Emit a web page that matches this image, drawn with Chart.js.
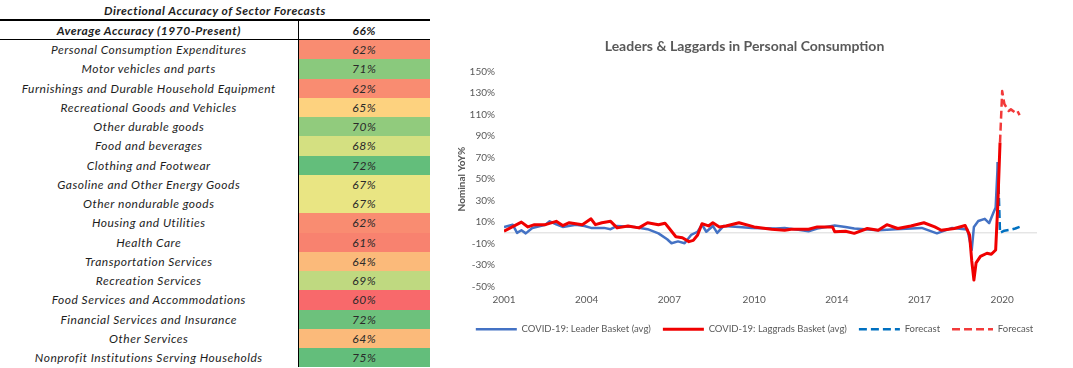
<!DOCTYPE html>
<html>
<head>
<meta charset="utf-8">
<script src="https://cdn.jsdelivr.net/npm/chart.js@4"></script>
<style>
    html, body { margin: 0; padding: 0; background: #fff; }
    body { width: 1073px; height: 368px; position: relative; overflow: hidden; font-family: Lato, "Open Sans", sans-serif; }
    #tableBox { position: absolute; left: 0; top: 0; width: 430px; }
    #tableBox table { border-collapse: collapse; width: 430px; table-layout: fixed; }
    #tableBox td { padding: 0; text-align: center; font-style: italic; font-size: 12px; letter-spacing: 0.5px; color: #1e1e1e; white-space: nowrap; }
    #tableBox .title td { height: 17px; padding-top: 2px; font-weight: bold; border-bottom: 2px solid #000; }
    #tableBox .head td { height: 18px; font-weight: bold; border-bottom: 1px solid #000; }
    #tableBox .row td { height: 19.25px; }
    #tableBox td.val { border-left: 1px solid #000; }
    #tableBox .row td.val { color: #2a2a2a; }
    #chartBox { position: absolute; left: 440px; top: 0; width: 633px; height: 368px; }
</style>
</head>
<body>
<div id="tableBox"></div>
<div id="chartBox"><canvas id="consumptionChart"></canvas></div>
<script>
    // Table: directional accuracy by sector
    var tableTitle = 'Directional Accuracy of Sector Forecasts';
    var headLabel = 'Average Accuracy (1970-Present)';
    var headValue = 66;
    var sectors = [
        'Personal Consumption Expenditures', 'Motor vehicles and parts',
        'Furnishings and Durable Household Equipment', 'Recreational Goods and Vehicles',
        'Other durable goods', 'Food and beverages', 'Clothing and Footwear',
        'Gasoline and Other Energy Goods', 'Other nondurable goods', 'Housing and Utilities',
        'Health Care', 'Transportation Services', 'Recreation Services',
        'Food Services and Accommodations', 'Financial Services and Insurance',
        'Other Services', 'Nonprofit Institutions Serving Households'
    ];
    var accuracy = [62, 71, 62, 65, 70, 68, 72, 67, 67, 62, 61, 64, 69, 60, 72, 64, 75];
    var cellColors = [
        '#F98C71', '#8AC97D', '#F98C71', '#FDD27F', '#91CB7D', '#D4E081', '#63BE7B',
        '#E9E583', '#E9E583', '#F98C71', '#F8826F', '#FBBA7A', '#BFD980', '#F8696B',
        '#6DC17C', '#FBBA7A', '#63BE7B'
    ];

    // Chart: x positions are month slots, 0 = first month on the axis
    var tickIdx = [0, 38, 76, 115, 153, 191, 229];
    var yearLabels = ['2001', '2004', '2007', '2010', '2014', '2017', '2020'];

    var leaderIdx = [0, 4, 6, 8, 10, 13, 19, 21, 24, 27, 33, 37, 40, 46, 49, 52, 60, 66, 71, 75,
        77, 80, 83, 86, 89, 91, 93, 96, 98, 101, 108, 114, 125, 129, 140, 144, 152, 157, 161, 172,
        180, 192, 199, 206, 213, 215, 216, 218, 221, 223, 225, 226, 227];
    var leaderVals = [5.5, 7.6, 0, 2.4, -0.5, 4.5, 7.6, 10.7, 8, 5.5, 7.6, 6.4, 4.6, 4.6, 3.4, 6.4, 5.5, 3.4, -0.5, -6,
        -9.7, -8, -9.7, -2, 1, 7.6, 1, 6.4, 0, 6.4, 5.5, 4.6, 4, 4.6, 1.5, 4, 6.8, 5.5, 4, 2.4,
        3.4, 4.6, -0.5, 4.6, 3, -16, 5.5, 11, 13, 9, 19, 23.7, 66];

    var laggardIdx = [0, 8, 11, 14, 19, 24, 27, 30, 36, 40, 42, 45, 49, 52, 57, 62, 66, 71, 74, 76,
        79, 82, 85, 87, 89, 91, 94, 96, 99, 102, 108, 115, 123, 129, 132, 140, 144, 151, 152, 157,
        161, 167, 172, 176, 181, 187, 193, 198, 201, 207, 212, 214, 215, 216, 217, 219, 222, 224, 226, 227,
        228];
    var laggardVals = [1.5, 10, 5.5, 7.6, 7.6, 10.7, 6.8, 9.4, 7.6, 13, 7.6, 9.4, 10.7, 4.6, 6.4, 4.6, 9.4, 7.6, 9, 4,
        -3.6, -4.6, -8.2, -7, -2, 8.5, 6.4, 9.4, 5.5, 6.4, 9.4, 5.5, 3.4, 2.4, 3.4, 3.4, 5.5, 5.5, 1, 1.5,
        -0.5, 4, 2.4, 7.6, 4, 6.4, 9.4, 5.5, 2.4, 4, 6.8, -2, -26, -44, -28, -22, -19, -20, -16, 27,
        84];

    var leaderFcIdx = [227, 228, 230, 233, 235, 237];
    var leaderFcVals = [66, 0, 2, 3, 4, 5.5];
    var laggardFcIdx = [228, 229, 230, 232, 233, 235, 236, 237];
    var laggardFcVals = [84, 132, 120, 113.5, 115, 112, 113.5, 109.6];

    var baselineIdx = [0, 245];
    var baselineVals = [0, 0];

    function buildTable() {
        var html = '<table><colgroup><col style="width:298px"><col style="width:132px"></colgroup>';
        html += '<tr class="title"><td colspan="2">' + tableTitle + '</td></tr>';
        html += '<tr class="head"><td>' + headLabel + '</td><td class="val">' + headValue + '%</td></tr>';
        sectors.forEach(function(name, i) {
            html += '<tr class="row"><td>' + name + '</td><td class="val" style="background:' +
                cellColors[i] + '">' + accuracy[i] + '%</td></tr>';
        });
        html += '</table>';
        document.getElementById('tableBox').innerHTML = html;
    }

    function toPoints(xs, ys) {
        return xs.map(function(x, i) { return { x: x, y: ys[i] }; });
    }

    // legend is nudged right of the title centre, as in the source chart
    var legendShift = {
        id: 'legendShift',
        afterLayout: function(chart) {
            chart.legend.left += 10;
            chart.legend.right += 10;
        }
    };

    function createChart() {
        var ctx = document.getElementById('consumptionChart');
        var gray = '#595959';
        var font = 'Lato, "Open Sans", sans-serif';

        new Chart(ctx, {
            type: 'line',
            data: {
                datasets: [{
                    label: 'COVID-19: Leader Basket (avg)',
                    data: toPoints(leaderIdx, leaderVals),
                    borderColor: '#4472C4',
                    borderWidth: 2.5,
                    order: 2
                }, {
                    label: 'COVID-19: Laggrads Basket (avg)',
                    data: toPoints(laggardIdx, laggardVals),
                    borderColor: '#F00000',
                    borderWidth: 3,
                    order: 1
                }, {
                    label: 'Forecast',
                    data: toPoints(leaderFcIdx, leaderFcVals),
                    borderColor: '#0070C0',
                    borderWidth: 2.5,
                    borderDash: [8, 4],
                    order: 2
                }, {
                    label: 'Forecast',
                    data: toPoints(laggardFcIdx, laggardFcVals),
                    borderColor: '#F23A3A',
                    borderWidth: 2.5,
                    borderDash: [8, 4],
                    order: 1
                }, {
                    label: '',
                    data: toPoints(baselineIdx, baselineVals),
                    borderColor: '#D9D9D9',
                    borderWidth: 1,
                    order: 9
                }]
            },
            options: {
                responsive: true,
                maintainAspectRatio: false,
                animation: false,
                layout: { padding: { left: 12, right: 36, top: 0, bottom: 24 } },
                elements: {
                    point: { radius: 0 },
                    line: { tension: 0, fill: false, borderJoinStyle: 'round' }
                },
                scales: {
                    x: {
                        type: 'linear',
                        min: 0,
                        max: 245,
                        grid: { display: false, drawTicks: false },
                        border: { display: false },
                        afterBuildTicks: function(scale) {
                            scale.ticks = tickIdx.map(function(v) { return { value: v }; });
                        },
                        ticks: {
                            autoSkip: false,
                            maxRotation: 0,
                            padding: 7,
                            color: gray,
                            font: { family: font, size: 10 },
                            callback: function(v) {
                                var i = tickIdx.indexOf(v);
                                return i >= 0 ? yearLabels[i] : '';
                            }
                        }
                    },
                    y: {
                        min: -50,
                        max: 150,
                        grid: { display: false, drawTicks: false },
                        border: { display: false },
                        afterFit: function(scale) { scale.width = 52; },
                        ticks: {
                            stepSize: 20,
                            padding: 9,
                            color: gray,
                            font: { family: font, size: 10 },
                            callback: function(v) { return v + '%'; }
                        },
                        title: {
                            display: true,
                            text: 'Nominal YoY%',
                            color: gray,
                            padding: { top: 4, bottom: 4 },
                            font: { family: font, size: 10, weight: 'bold' }
                        }
                    }
                },
                plugins: {
                    title: {
                        display: true,
                        text: 'Leaders & Laggards in Personal Consumption',
                        color: gray,
                        padding: { top: 38, bottom: 17 },
                        font: { family: font, size: 14, weight: 'bold' }
                    },
                    legend: {
                        position: 'bottom',
                        labels: {
                            usePointStyle: true,
                            pointStyle: 'line',
                            pointStyleWidth: 41,
                            boxHeight: 10,
                            padding: 12,
                            color: gray,
                            font: { family: font, size: 9.5 },
                            generateLabels: function(chart) {
                                var items = Chart.defaults.plugins.legend.labels.generateLabels(chart);
                                items.forEach(function(item) {
                                    var ds = chart.data.datasets[item.datasetIndex];
                                    item.lineDash = ds.borderDash || [];
                                    item.lineWidth = ds.borderWidth;
                                    item.strokeStyle = ds.borderColor;
                                });
                                return items;
                            },
                            filter: function(item) { return item.text !== ''; },
                            sort: function(a, b) { return a.datasetIndex - b.datasetIndex; }
                        }
                    },
                    tooltip: { enabled: false }
                }
            },
            plugins: [legendShift]
        });
    }

    buildTable();
    createChart();
</script>
</body>
</html>
